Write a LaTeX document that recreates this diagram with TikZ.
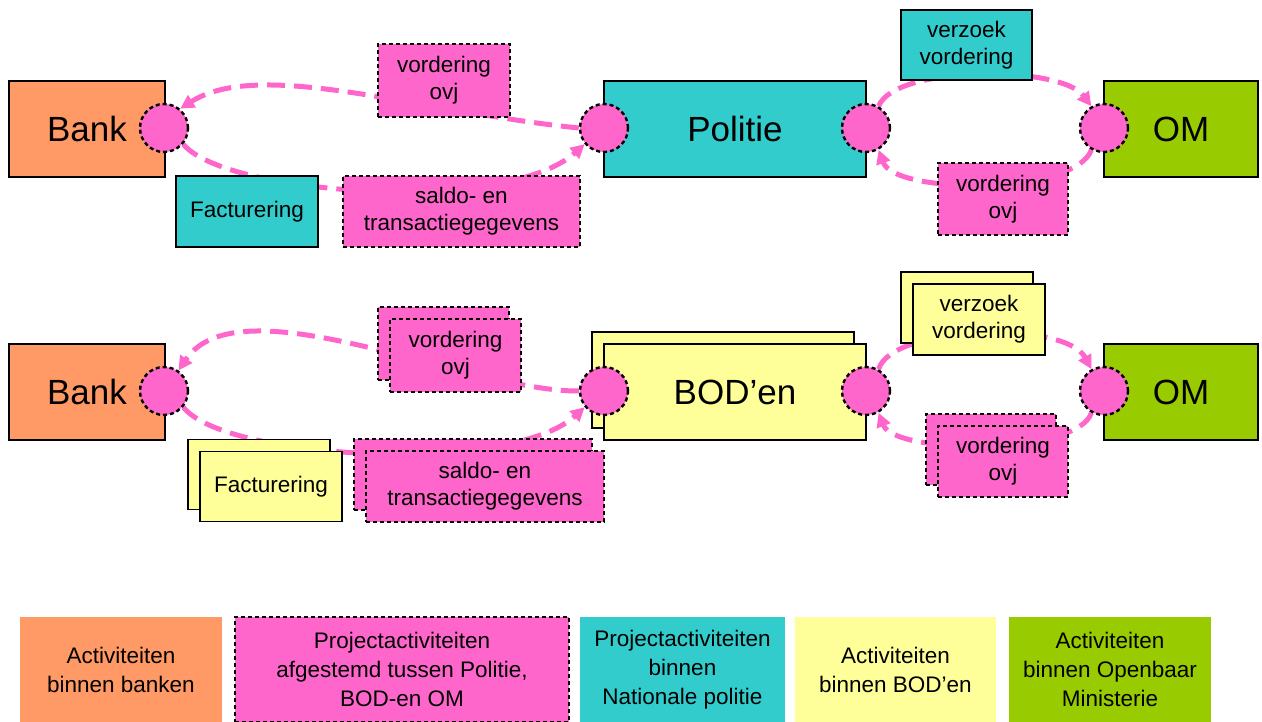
\documentclass[tikz,border=0pt]{standalone}
\usepackage{fontspec}
\setmainfont{Liberation Sans}
\usetikzlibrary{arrows.meta}
\pgfdeclarelayer{background}
\pgfsetlayers{background,main}
\definecolor{cOrange}{HTML}{FF9966}
\definecolor{cPink}{HTML}{FF66CC}
\definecolor{cTeal}{HTML}{33CCCC}
\definecolor{cYellow}{HTML}{FFFF99}
\definecolor{cGreen}{HTML}{99CC00}
\tikzset{
  box/.style={draw=black,line width=1.3pt,inner sep=0pt,align=center},
  big/.style={font=\fontsize{35}{40}\selectfont},
  small/.style={font=\fontsize{22.5}{27}\selectfont},
  pinkbox/.style={box,fill=cPink,dash pattern=on 4pt off 3pt,line width=1.8pt},
  port/.style={circle,draw=black,fill=cPink,line width=2.4pt,dash pattern=on 4pt off 3pt,minimum width=48pt,inner sep=0pt},
  flow/.style={draw=cPink,line width=5pt,dash pattern=on 18pt off 9pt,-{Triangle[length=14pt,width=14pt]}},
  mainsize/.style={minimum width=#1,minimum height=96pt},
  legend/.style={inner sep=0pt,align=center,font=\fontsize{22.5}{29}\selectfont,minimum height=105pt}
}
\begin{document}
\begin{tikzpicture}[x=1pt,y=-1pt]
\useasboundingbox (0,0) rectangle (1262,722);
% ---------- top row ----------
\node[box,fill=cOrange,big,mainsize=156pt] (bank1) at (87,129) {Bank};
\node[box,fill=cTeal,big,mainsize=262pt] (pol) at (735,129) {Politie};
\node[box,fill=cGreen,big,mainsize=154pt] (om1) at (1181,129) {OM};
\node[port] (b1) at (164,128) {};
\node[port] (p1l) at (604,128) {};
\node[port] (p1r) at (866,128) {};
\node[port] (o1) at (1104,128) {};
\node[pinkbox,small,minimum width=132pt,minimum height=73pt] (vo1) at (444,80.5) {vordering\\ovj};
\node[box,fill=cTeal,small,minimum width=142pt,minimum height=71pt] (fac1) at (247,211.5) {Facturering};
\node[pinkbox,small,minimum width=237pt,minimum height=71pt] (sal1) at (461.5,211.5) {saldo- en\\transactiegegevens};
\node[box,fill=cTeal,small,minimum width=131pt,minimum height=70pt] (vz1) at (966.5,45) {verzoek\\vordering};
\node[pinkbox,small,minimum width=130pt,minimum height=72pt] (vo2) at (1003,199) {vordering\\ovj};
% ---------- bottom row ----------
\node[box,fill=cOrange,big,mainsize=156pt] (bank2) at (87,392) {Bank};
\node[box,fill=cYellow,mainsize=262pt] (bodb) at (723,380) {};
\node[box,fill=cYellow,big,mainsize=262pt] (bod) at (735,392) {BOD’en};
\node[box,fill=cGreen,big,mainsize=154pt] (om2) at (1181,392) {OM};
\node[port] (b2) at (164,391) {};
\node[port] (d2l) at (604,391) {};
\node[port] (d2r) at (866,391) {};
\node[port] (o2) at (1104,391) {};
\node[pinkbox,minimum width=131pt,minimum height=73pt] (vo3b) at (443.5,343.5) {};
\node[pinkbox,small,minimum width=131pt,minimum height=73pt] (vo3) at (455.5,355.5) {vordering\\ovj};
\node[box,fill=cYellow,minimum width=142pt,minimum height=70pt] (fac2b) at (259,474.5) {};
\node[box,fill=cYellow,small,minimum width=142pt,minimum height=70pt] (fac2) at (271,486.5) {Facturering};
\node[pinkbox,minimum width=238pt,minimum height=71pt] (sal2b) at (473,474.5) {};
\node[pinkbox,small,minimum width=238pt,minimum height=71pt] (sal2) at (485,486.5) {saldo- en\\transactiegegevens};
\node[box,fill=cYellow,minimum width=132pt,minimum height=71pt] (vz2b) at (967,307.5) {};
\node[box,fill=cYellow,small,minimum width=132pt,minimum height=71pt] (vz2) at (979,319.5) {verzoek\\vordering};
\node[pinkbox,minimum width=130pt,minimum height=71pt] (vo4b) at (991,449.5) {};
\node[pinkbox,small,minimum width=130pt,minimum height=71pt] (vo4) at (1003,461.5) {vordering\\ovj};
% ---------- flows ----------
\begin{pgfonlayer}{background}
\draw[flow] (p1l.west) .. controls (420,112) and (260,58) .. (b1.50);
\draw[flow] (b1.-40) .. controls (225,195) and (505,215) .. (p1l.-140);
\draw[flow] (p1r.60) .. controls (895,65) and (1060,65) .. (o1.120);
\draw[flow] (o1.-120) .. controls (1075,195) and (895,195) .. (p1r.-60);
\draw[flow] (d2l.west) .. controls (470,392) and (240,280) .. (b2.55);
\draw[flow] (b2.-40) .. controls (225,460) and (510,475) .. (d2l.-140);
\draw[flow] (d2r.60) .. controls (892,325) and (1065,320) .. (o2.120);
\draw[flow] (o2.-120) .. controls (1078,455) and (895,455) .. (d2r.-60);
\end{pgfonlayer}
% ---------- legend ----------
\node[legend,fill=cOrange,minimum width=202pt] (l1) at (121,669.5) {Activiteiten\\binnen banken};
\node[legend,fill=cPink,draw=black,line width=1.8pt,dash pattern=on 4pt off 3pt,minimum width=334pt] (l2) at (402,669.5) {Projectactiviteiten\\afgestemd tussen Politie,\\BOD-en OM};
\node[legend,fill=cTeal,minimum width=205pt] (l3) at (682.5,669.5) {Projectactiviteiten\\binnen\\Nationale politie};
\node[legend,fill=cYellow,minimum width=201pt] (l4) at (895.5,669.5) {Activiteiten\\binnen BOD’en};
\node[legend,fill=cGreen,minimum width=202pt] (l5) at (1110,669.5) {Activiteiten\\binnen Openbaar\\Ministerie};
\end{tikzpicture}
\end{document}
